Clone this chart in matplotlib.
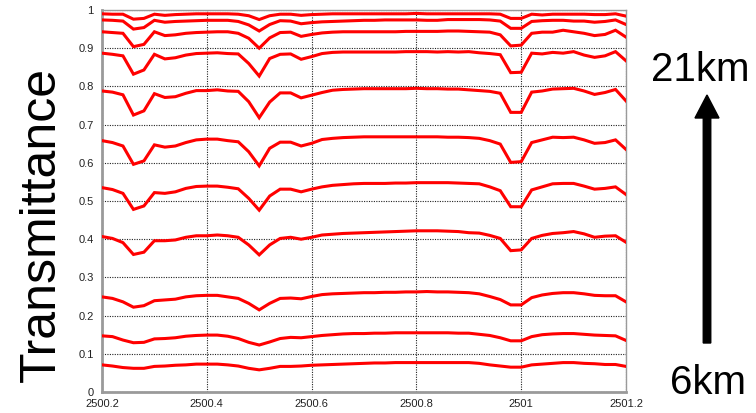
import numpy as np
import matplotlib
matplotlib.use("Agg")
import matplotlib.pyplot as plt
from matplotlib.patches import FancyArrow

plt.rcParams['font.family'] = ['Liberation Sans', 'DejaVu Sans']

# wavenumber grid (0.02 step, 2500.2 .. 2501.2)
wavenumber = [2500.20, 2500.22, 2500.24, 2500.26, 2500.28, 2500.30, 2500.32, 2500.34, 2500.36, 2500.38,
              2500.40, 2500.42, 2500.44, 2500.46, 2500.48, 2500.50, 2500.52, 2500.54, 2500.56, 2500.58,
              2500.60, 2500.62, 2500.64, 2500.66, 2500.68, 2500.70, 2500.72, 2500.74, 2500.76, 2500.78,
              2500.80, 2500.82, 2500.84, 2500.86, 2500.88, 2500.90, 2500.92, 2500.94, 2500.96, 2500.98,
              2501.00, 2501.02, 2501.04, 2501.06, 2501.08, 2501.10, 2501.12, 2501.14, 2501.16, 2501.18,
              2501.20]

t_21km = [.990, .989, .989, .976, .978, .989, .986, .988, .989, .990, .990, .990, .990, .989, .985, .975, .985,
          .989, .989, .986, .988, .989, .990, .990, .990, .990, .990, .990, .990, .990, .991, .990, .990, .990,
          .990, .990, .990, .990, .989, .978, .978, .989, .987, .989, .989, .989, .989, .988, .988, .990, .984]
t_19km = [.974, .973, .971, .950, .954, .973, .968, .970, .971, .972, .973, .973, .973, .970, .961, .945, .962,
          .972, .971, .964, .967, .969, .970, .971, .972, .973, .973, .974, .974, .974, .974, .973, .973, .975,
          .975, .975, .975, .974, .971, .952, .952, .970, .972, .973, .973, .971, .971, .968, .970, .974, .962]
t_17km = [.943, .941, .939, .904, .910, .943, .933, .935, .939, .941, .942, .943, .943, .939, .926, .900, .927,
          .941, .942, .931, .936, .940, .942, .943, .943, .943, .943, .943, .943, .944, .944, .944, .944, .945,
          .945, .944, .943, .942, .935, .906, .908, .939, .942, .942, .947, .943, .939, .933, .936, .947, .929]
t_15km = [.887, .884, .880, .832, .843, .884, .872, .875, .882, .886, .887, .888, .886, .885, .860, .827, .873,
          .884, .885, .871, .878, .886, .889, .890, .890, .890, .890, .890, .890, .891, .891, .891, .890, .891,
          .890, .891, .888, .886, .883, .836, .837, .887, .885, .889, .887, .891, .882, .876, .880, .891, .867]
t_13km = [.788, .785, .778, .725, .736, .781, .771, .773, .782, .789, .789, .791, .788, .787, .760, .718, .759,
          .783, .783, .770, .777, .784, .790, .792, .793, .794, .794, .794, .794, .794, .795, .794, .794, .793,
          .793, .791, .789, .787, .782, .732, .732, .785, .788, .793, .794, .795, .788, .779, .784, .792, .762]
t_12km = [.658, .653, .644, .596, .605, .647, .641, .644, .653, .660, .662, .662, .658, .655, .629, .592, .638,
          .654, .654, .644, .651, .661, .664, .666, .667, .668, .668, .668, .668, .668, .668, .668, .668, .667,
          .667, .666, .664, .658, .649, .601, .603, .653, .660, .667, .666, .667, .660, .651, .653, .660, .635]
t_10km = [.535, .530, .520, .478, .487, .522, .520, .524, .533, .538, .539, .539, .536, .532, .507, .476, .513,
          .531, .531, .524, .531, .537, .541, .543, .545, .546, .546, .546, .547, .547, .548, .548, .548, .548,
          .547, .546, .545, .537, .527, .485, .485, .529, .537, .545, .546, .546, .539, .531, .533, .537, .517]
t_9km = [.407, .402, .391, .360, .366, .396, .396, .398, .405, .409, .409, .411, .409, .405, .385, .359, .385,
         .402, .405, .400, .405, .411, .413, .415, .416, .417, .418, .419, .420, .421, .422, .422, .422, .421,
         .420, .417, .416, .410, .402, .370, .372, .402, .410, .415, .417, .420, .414, .405, .408, .409, .392]
t_8km = [.249, .245, .236, .222, .226, .239, .241, .243, .249, .252, .253, .253, .249, .245, .232, .215, .232,
         .245, .246, .244, .250, .255, .257, .258, .259, .260, .260, .261, .261, .262, .262, .263, .262, .262,
         .261, .260, .257, .250, .242, .228, .228, .247, .254, .258, .260, .260, .257, .253, .252, .252, .236]
t_7km = [.147, .145, .136, .129, .130, .139, .140, .142, .146, .148, .149, .149, .146, .140, .130, .123, .131,
         .140, .143, .142, .145, .148, .150, .152, .153, .153, .154, .154, .155, .155, .155, .155, .155, .155,
         .154, .154, .151, .148, .142, .134, .134, .145, .150, .152, .153, .153, .151, .149, .148, .147, .135]
t_6km = [.071, .068, .064, .062, .062, .067, .068, .070, .071, .073, .073, .073, .071, .068, .062, .058, .062,
         .067, .067, .068, .070, .071, .072, .073, .074, .075, .076, .076, .077, .077, .077, .077, .077, .077,
         .077, .077, .075, .071, .068, .065, .065, .071, .073, .075, .077, .077, .075, .074, .072, .072, .067]

series = [t_21km, t_19km, t_17km, t_15km, t_13km, t_12km, t_10km, t_9km, t_8km, t_7km, t_6km]

x_ticks = [2500.2, 2500.4, 2500.6, 2500.8, 2501.0, 2501.2]
x_tick_labels = ["2500.2", "2500.4", "2500.6", "2500.8", "2501", "2501.2"]
y_ticks = [0, 0.1, 0.2, 0.3, 0.4, 0.5, 0.6, 0.7, 0.8, 0.9, 1.0]
y_tick_labels = ["0", "0.1", "0.2", "0.3", "0.4", "0.5", "0.6", "0.7", "0.8", "0.9", "1"]

W, H = 756, 413
fig = plt.figure(figsize=(W / 100, H / 100), dpi=100)
ax = fig.add_axes([102 / W, 21 / H, 524 / W, 382 / H])

for ys in series:
    ax.plot(wavenumber, ys, color='#ff0000', lw=2.2, solid_joinstyle='miter', zorder=3)

ax.set_xlim(2500.2, 2501.2)
ax.set_ylim(0, 1)
ax.set_xticks(x_ticks)
ax.set_xticklabels(x_tick_labels)
ax.set_yticks(y_ticks)
ax.set_yticklabels(y_tick_labels)
ax.tick_params(length=0, labelsize=8, colors='#222222')
ax.tick_params(axis='y', pad=6)
ax.tick_params(axis='x', pad=5)
ax.grid(True, color='#222222', linestyle=(0, (1, 1.2)), linewidth=0.8, zorder=1)
for side in ['left', 'bottom']:
    ax.spines[side].set_color('#9a9a9a')
    ax.spines[side].set_linewidth(2)
for side in ['top', 'right']:
    ax.spines[side].set_color('#9a9a9a')
    ax.spines[side].set_linewidth(1)

fig.text(42 / W, 1 - 225 / H, "Transmittance", rotation=90, fontsize=36,
         ha='center', va='center', color='black')
fig.text(700 / W, 1 - 70 / H, "21km", fontsize=29, ha='center', va='center', color='black')
fig.text(708 / W, 1 - 383 / H, "6km", fontsize=29, ha='center', va='center', color='black')

arrow = FancyArrow(707 / W, 1 - 343 / H, 0, (343 - 95) / H, width=7.5 / W,
                   head_width=24 / W, head_length=23 / H, length_includes_head=True,
                   color='black', transform=fig.transFigure)
fig.patches.append(arrow)

fig.savefig("out.png", dpi=100)
